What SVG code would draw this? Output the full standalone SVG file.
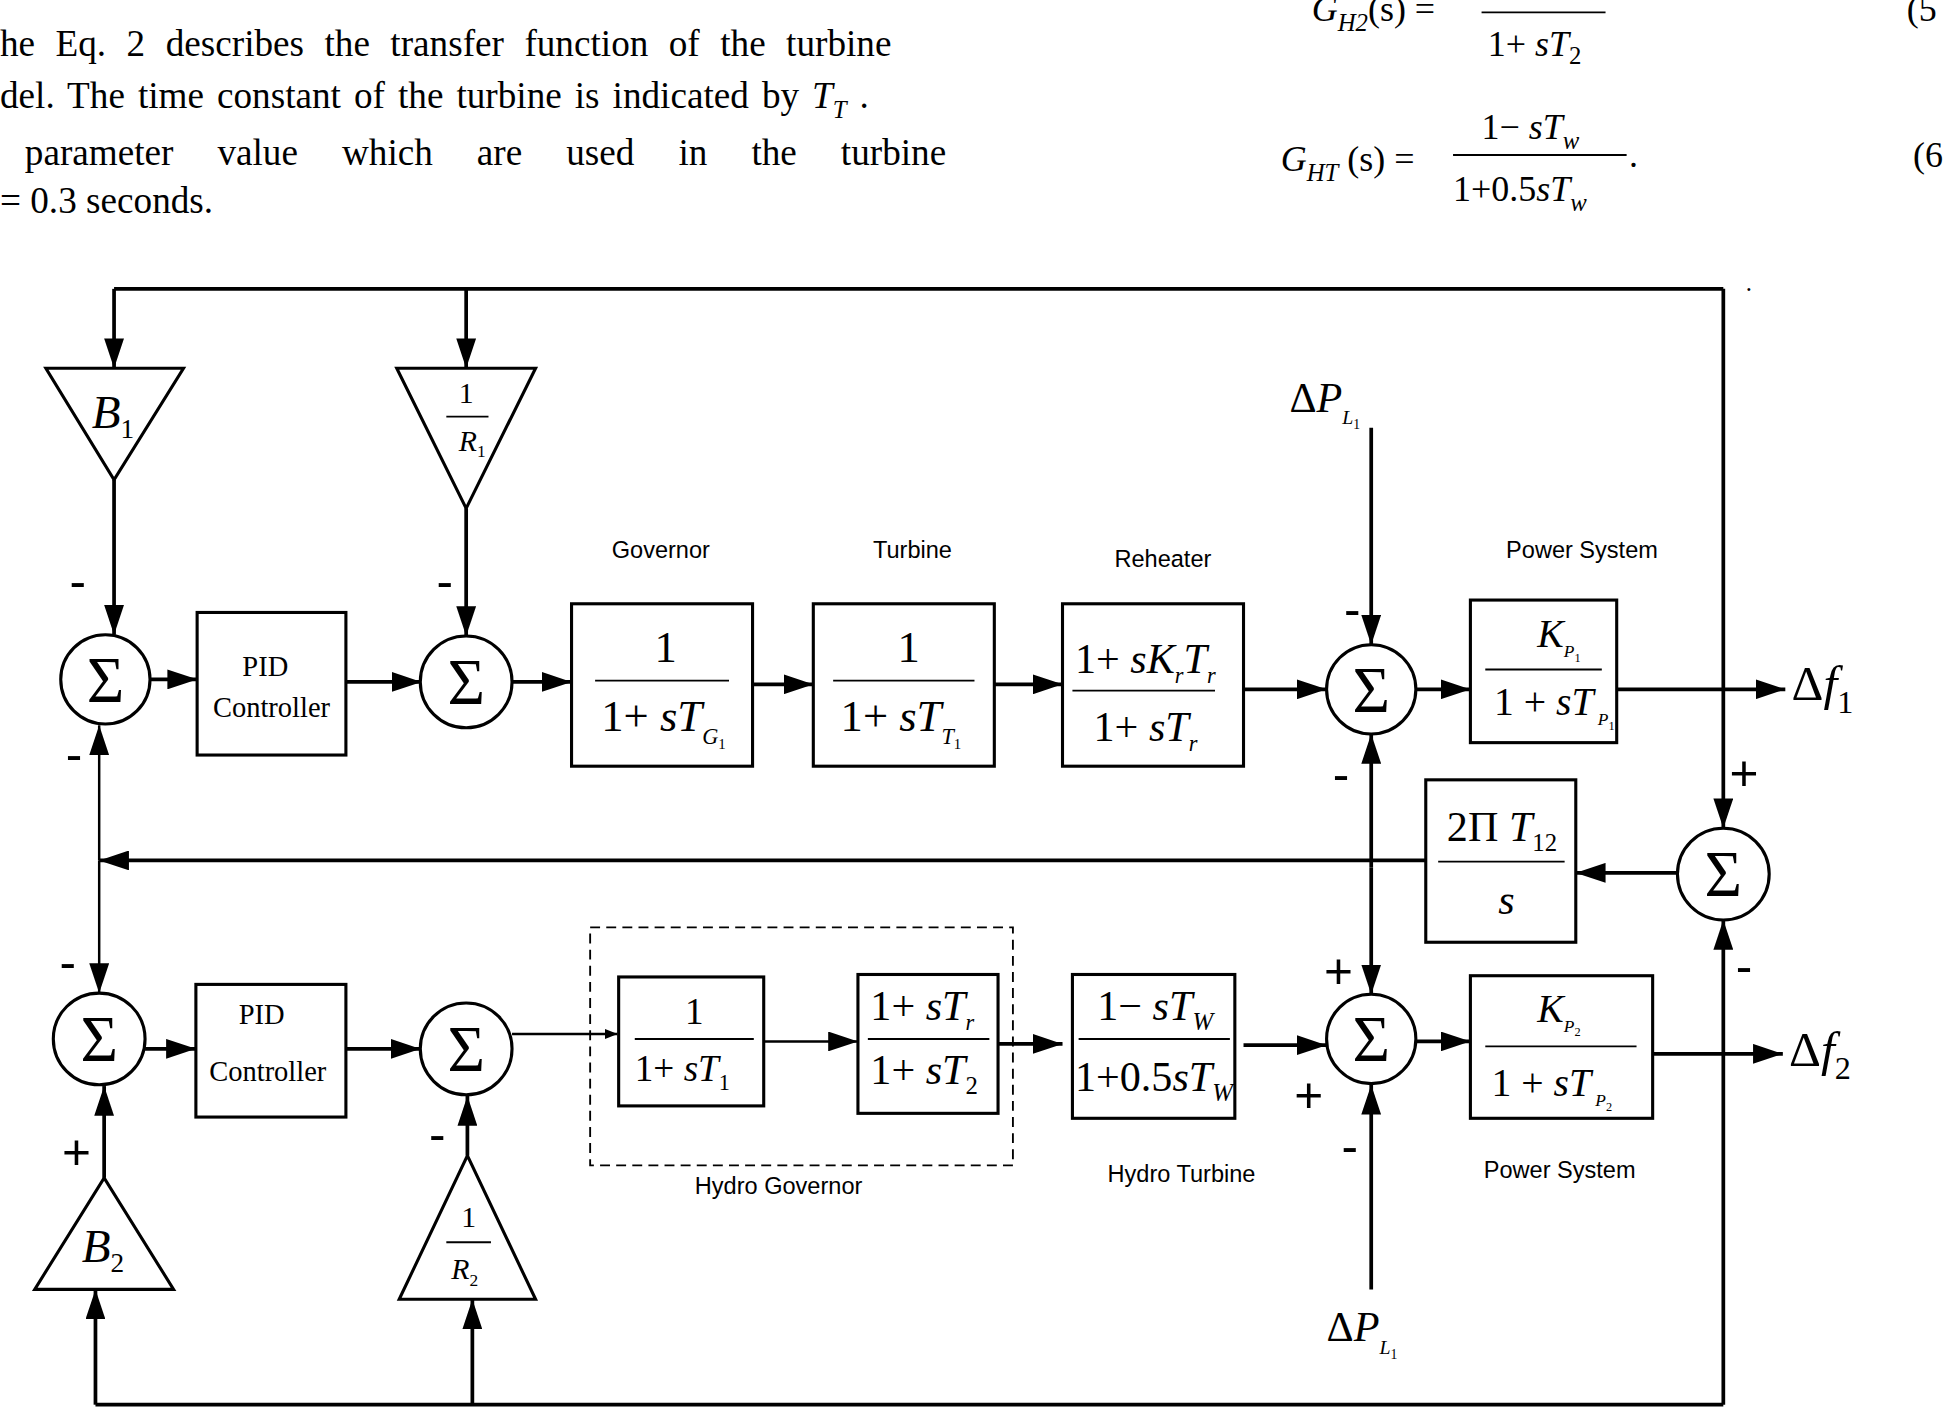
<svg xmlns="http://www.w3.org/2000/svg" width="1944" height="1409" viewBox="0 0 1944 1409">
<defs>
<marker id="ah" markerWidth="10" markerHeight="8" refX="10" refY="4" orient="auto" markerUnits="userSpaceOnUse" viewBox="0 0 10 8"><path d="M0,0 L10,4 L0,8 z" fill="#000"/></marker>
<marker id="ahb" markerWidth="24" markerHeight="16" refX="24" refY="8" orient="auto" markerUnits="userSpaceOnUse" viewBox="0 0 24 16"><path d="M0,0 L24,8 L0,16 z" fill="#000"/></marker>
<style>
.ln{stroke:#000;stroke-width:3;fill:none}
.bx{stroke:#000;stroke-width:2.5;fill:#fff}
.t{font-family:"Liberation Serif",serif;fill:#000}
.m{font-family:"Liberation Serif",serif;font-style:italic;fill:#000}
.lb{font-family:"Liberation Sans",sans-serif;font-size:19px;fill:#000}
.sg{font-family:"Liberation Serif",serif;font-size:52px;fill:#000}
.pm{font-family:"Liberation Sans",sans-serif;font-size:40px;fill:#000}
</style>
</defs>
<rect width="1944" height="1409" fill="#fff"/>
<g transform="scale(1.2398)">
<g id="text">
<text class="t" x="0" y="45" font-size="30" word-spacing="9">he Eq. 2 describes the transfer function of the turbine</text>
<text class="t" x="0" y="87" font-size="30" word-spacing="3">del. The time constant of the turbine is indicated by <tspan font-style="italic">T</tspan><tspan font-style="italic" font-size="20" dy="8">T</tspan><tspan dy="-8"> .</tspan></text>
<text class="t" x="20" y="133" font-size="30" word-spacing="28">parameter value which are used in the turbine</text>
<text class="t" x="0" y="172" font-size="30">= 0.3 seconds.</text>
<text class="m" x="1058" y="17" font-size="29">G<tspan font-size="20" dy="8">H2</tspan><tspan dy="-8" font-style="normal">(s) =</tspan></text>
<line x1="1195" y1="10" x2="1295" y2="10" stroke="#000" stroke-width="1.5"/>
<text class="t" x="1200" y="45" font-size="29">1+ <tspan font-style="italic">sT</tspan><tspan font-size="20" dy="7">2</tspan></text>
<text class="t" x="1538" y="17" font-size="29">(5</text>
<text class="m" x="1033" y="138" font-size="29">G<tspan font-size="20" dy="8">HT</tspan><tspan dy="-8" font-style="normal"> (s) =</tspan></text>
<text class="t" x="1195" y="112" font-size="29">1− <tspan font-style="italic">sT</tspan><tspan font-style="italic" font-size="20" dy="8">w</tspan></text>
<line x1="1172" y1="125" x2="1312" y2="125" stroke="#000" stroke-width="1.5"/>
<text class="t" x="1172" y="162" font-size="29">1+0.5<tspan font-style="italic">sT</tspan><tspan font-style="italic" font-size="20" dy="8">w</tspan></text>
<text class="t" x="1314" y="135" font-size="29">.</text>
<text class="t" x="1543" y="135" font-size="29">(6</text>
<text class="t" x="1408" y="235" font-size="20">.</text>
</g>
<g id="connectors">
<path class="ln" d="M92,233 H1390"/>
<path class="ln" d="M92,233 V297" marker-end="url(#ahb)"/>
<path class="ln" d="M376,233 V297" marker-end="url(#ahb)"/>
<path class="ln" d="M92,387 V512" marker-end="url(#ahb)"/>
<path class="ln" d="M376,410 V513" marker-end="url(#ahb)"/>
<path class="ln" d="M121,548 H159" marker-end="url(#ahb)"/>
<path class="ln" d="M279,550 H340" marker-end="url(#ahb)"/>
<path class="ln" d="M413,550 H461" marker-end="url(#ahb)"/>
<path class="ln" d="M607,552 H656" marker-end="url(#ahb)"/>
<path class="ln" d="M802,552 H857" marker-end="url(#ahb)"/>
<path class="ln" d="M1003,556 H1070" marker-end="url(#ahb)"/>
<path class="ln" d="M1106,345 V520" marker-end="url(#ahb)"/>
<path class="ln" d="M1142,556 H1186" marker-end="url(#ahb)"/>
<path class="ln" d="M1304,556 H1440" marker-end="url(#ahb)"/>
<path class="ln" d="M1390,233 V668" marker-end="url(#ahb)"/>
<path class="ln" d="M1353,704 H1271" marker-end="url(#ahb)"/>
<path class="ln" d="M1150,694 H80" marker-end="url(#ahb)"/>
<path class="ln" d="M80,694 V585" marker-end="url(#ahb)" style="stroke-width:2"/>
<path class="ln" d="M80,694 V801" marker-end="url(#ahb)" style="stroke-width:2"/>
<path class="ln" d="M1106,700 V592" marker-end="url(#ahb)"/>
<path class="ln" d="M1106,700 V802" marker-end="url(#ahb)"/>
<path class="ln" d="M117,846 H158" marker-end="url(#ahb)"/>
<path class="ln" d="M279,846 H339" marker-end="url(#ahb)"/>
<path class="ln" d="M413,834 H498" marker-end="url(#ah)" style="stroke-width:2"/>
<path class="ln" d="M616,840 H692" marker-end="url(#ahb)" style="stroke-width:2"/>
<path class="ln" d="M805,842 H857" marker-end="url(#ahb)"/>
<path class="ln" d="M1003,843 H1070" marker-end="url(#ahb)"/>
<path class="ln" d="M1142,840 H1186" marker-end="url(#ahb)"/>
<path class="ln" d="M1333,850 H1438" marker-end="url(#ahb)"/>
<path class="ln" d="M1106,1040 V875" marker-end="url(#ahb)"/>
<path class="ln" d="M84,950 V876" marker-end="url(#ahb)"/>
<path class="ln" d="M377,932 V884" marker-end="url(#ahb)"/>
<path class="ln" d="M77,1133 H1390"/>
<path class="ln" d="M77,1133 V1040" marker-end="url(#ahb)"/>
<path class="ln" d="M381,1133 V1048" marker-end="url(#ahb)"/>
<path class="ln" d="M1390,1133 V742" marker-end="url(#ahb)"/>
</g>
<g id="B1"><polygon class="bx" points="37,297 148,297 92,387"/><text class="m" x="74" y="345" font-size="38">B<tspan font-style="normal" font-size="22" dy="8">1</tspan></text></g>
<g id="R1"><polygon class="bx" points="320,297 432,297 376,410"/><text class="t" x="376" y="325" font-size="24" text-anchor="middle">1</text><line x1="360" y1="336" x2="394" y2="336" stroke="#000" stroke-width="1.5"/><text class="m" x="370" y="364" font-size="24">R<tspan font-style="normal" font-size="14" dy="5">1</tspan></text></g>
<g id="sum1"><circle class="bx" cx="85" cy="548" r="36"/><text class="sg" x="85" y="566" text-anchor="middle">Σ</text></g>
<g id="pid1"><rect class="bx" x="159" y="494" width="120" height="115"/><text class="t" x="214" y="545" font-size="23" text-anchor="middle">PID</text><text class="t" x="219" y="578" font-size="23" text-anchor="middle">Controller</text></g>
<g id="sum2"><circle class="bx" cx="376" cy="550" r="37"/><text class="sg" x="376" y="568" text-anchor="middle">Σ</text></g>
<g id="gov"><rect class="bx" x="461" y="487" width="146" height="131"/><text class="t" x="537" y="534" font-size="36" text-anchor="middle">1</text><line x1="480" y1="549" x2="588" y2="549" stroke="#000" stroke-width="1.5"/><text class="t" x="485" y="590" font-size="36">1+ <tspan font-style="italic">sT</tspan><tspan font-style="italic" font-size="18" dy="10">G</tspan><tspan font-size="12" dy="4">1</tspan></text></g>
<g id="turb"><rect class="bx" x="656" y="487" width="146" height="131"/><text class="t" x="733" y="534" font-size="36" text-anchor="middle">1</text><line x1="672" y1="549" x2="786" y2="549" stroke="#000" stroke-width="1.5"/><text class="t" x="678" y="590" font-size="36">1+ <tspan font-style="italic">sT</tspan><tspan font-style="italic" font-size="18" dy="10">T</tspan><tspan font-size="12" dy="4">1</tspan></text></g>
<g id="reh"><rect class="bx" x="857" y="487" width="146" height="131"/><text class="t" x="867" y="543" font-size="34">1+ <tspan font-style="italic">sK</tspan><tspan font-style="italic" font-size="18" dy="8">r</tspan><tspan font-style="italic" dy="-8">T</tspan><tspan font-style="italic" font-size="18" dy="8">r</tspan></text><line x1="865" y1="557" x2="980" y2="557" stroke="#000" stroke-width="1.5"/><text class="t" x="882" y="598" font-size="34">1+ <tspan font-style="italic">sT</tspan><tspan font-style="italic" font-size="18" dy="8">r</tspan></text></g>
<g id="sum3"><circle class="bx" cx="1106" cy="556" r="36"/><text class="sg" x="1106" y="574" text-anchor="middle">Σ</text></g>
<g id="ps1"><rect class="bx" x="1186" y="484" width="118" height="115"/><text class="m" x="1240" y="522" font-size="32">K<tspan font-size="14" dy="8">P</tspan><tspan font-style="normal" font-size="10" dy="4">1</tspan></text><line x1="1198" y1="540" x2="1292" y2="540" stroke="#000" stroke-width="1.5"/><text class="t" x="1205" y="577" font-size="32">1 + <tspan font-style="italic">sT</tspan><tspan font-style="italic" font-size="14" dy="8"> P</tspan><tspan font-size="10" dy="4">1</tspan></text></g>
<g id="sum4"><circle class="bx" cx="1390" cy="705" r="37"/><text class="sg" x="1390" y="723" text-anchor="middle">Σ</text></g>
<g id="tie"><rect class="bx" x="1150" y="629" width="121" height="131"/><text class="t" x="1167" y="678" font-size="34">2Π <tspan font-style="italic">T</tspan><tspan font-size="20" dy="8">12</tspan></text><line x1="1160" y1="695" x2="1262" y2="695" stroke="#000" stroke-width="1.5"/><text class="m" x="1215" y="737" font-size="34" text-anchor="middle">s</text></g>
<g id="sum5"><circle class="bx" cx="80" cy="838" r="37"/><text class="sg" x="80" y="856" text-anchor="middle">Σ</text></g>
<g id="pid2"><rect class="bx" x="158" y="794" width="121" height="107"/><text class="t" x="211" y="826" font-size="23" text-anchor="middle">PID</text><text class="t" x="216" y="872" font-size="23" text-anchor="middle">Controller</text></g>
<g id="sum7"><circle class="bx" cx="376" cy="846" r="37"/><text class="sg" x="376" y="864" text-anchor="middle">Σ</text></g>
<g id="hgov"><rect x="476" y="748" width="341" height="192" fill="none" stroke="#000" stroke-width="1.5" stroke-dasharray="8,5"/><text class="lb" x="628" y="963" text-anchor="middle">Hydro Governor</text></g>
<g id="hg1"><rect class="bx" x="499" y="788" width="117" height="104"/><text class="t" x="560" y="826" font-size="30" text-anchor="middle">1</text><line x1="512" y1="838" x2="608" y2="838" stroke="#000" stroke-width="1.5"/><text class="t" x="512" y="872" font-size="30">1+ <tspan font-style="italic">sT</tspan><tspan font-size="18" dy="7">1</tspan></text></g>
<g id="hg2"><rect class="bx" x="692" y="786" width="113" height="112"/><text class="t" x="702" y="823" font-size="34">1+ <tspan font-style="italic">sT</tspan><tspan font-style="italic" font-size="18" dy="8">r</tspan></text><line x1="700" y1="838" x2="798" y2="838" stroke="#000" stroke-width="1.5"/><text class="t" x="702" y="874" font-size="34">1+ <tspan font-style="italic">sT</tspan><tspan font-size="20" dy="8">2</tspan></text></g>
<g id="ht"><rect class="bx" x="865" y="786" width="131" height="116"/><text class="t" x="885" y="823" font-size="34">1− <tspan font-style="italic">sT</tspan><tspan font-style="italic" font-size="20" dy="8">W</tspan></text><line x1="870" y1="838" x2="992" y2="838" stroke="#000" stroke-width="1.5"/><text class="t" x="867" y="880" font-size="34">1+0.5<tspan font-style="italic">sT</tspan><tspan font-style="italic" font-size="20" dy="8">W</tspan></text><text class="lb" x="953" y="953" text-anchor="middle">Hydro Turbine</text></g>
<g id="sum6"><circle class="bx" cx="1106" cy="838" r="36"/><text class="sg" x="1106" y="856" text-anchor="middle">Σ</text></g>
<g id="ps2"><rect class="bx" x="1186" y="787" width="147" height="115"/><text class="m" x="1240" y="824" font-size="32">K<tspan font-size="14" dy="8">P</tspan><tspan font-style="normal" font-size="10" dy="4">2</tspan></text><line x1="1198" y1="844" x2="1320" y2="844" stroke="#000" stroke-width="1.5"/><text class="t" x="1203" y="884" font-size="32">1 + <tspan font-style="italic">sT</tspan><tspan font-style="italic" font-size="14" dy="8"> P</tspan><tspan font-size="10" dy="4">2</tspan></text><text class="lb" x="1258" y="950" text-anchor="middle">Power System</text></g>
<g id="B2"><polygon class="bx" points="28,1040 140,1040 84,950"/><text class="m" x="66" y="1018" font-size="38">B<tspan font-style="normal" font-size="22" dy="8">2</tspan></text></g>
<g id="R2"><polygon class="bx" points="322,1048 432,1048 377,932"/><text class="t" x="378" y="990" font-size="24" text-anchor="middle">1</text><line x1="360" y1="1002" x2="396" y2="1002" stroke="#000" stroke-width="1.5"/><text class="m" x="364" y="1032" font-size="24">R<tspan font-style="normal" font-size="14" dy="5">2</tspan></text></g>
<g id="labels">
<text class="lb" x="533" y="450" text-anchor="middle">Governor</text>
<text class="lb" x="736" y="450" text-anchor="middle">Turbine</text>
<text class="lb" x="938" y="457" text-anchor="middle">Reheater</text>
<text class="lb" x="1276" y="450" text-anchor="middle">Power System</text>
<text class="t" x="1040" y="332" font-size="34">Δ<tspan font-style="italic">P</tspan><tspan font-style="italic" font-size="16" dy="10">L</tspan><tspan font-size="11" dy="4">1</tspan></text>
<text class="t" x="1070" y="1082" font-size="34">Δ<tspan font-style="italic">P</tspan><tspan font-style="italic" font-size="16" dy="10">L</tspan><tspan font-size="11" dy="4">1</tspan></text>
<text class="t" x="1445" y="565" font-size="40">Δ<tspan font-style="italic">f</tspan><tspan font-size="26" dy="10">1</tspan></text>
<text class="t" x="1443" y="860" font-size="40">Δ<tspan font-style="italic">f</tspan><tspan font-size="26" dy="10">2</tspan></text>
<text class="pm" x="56" y="482">-</text>
<text class="pm" x="352" y="482">-</text>
<text class="pm" x="53" y="622">-</text>
<text class="pm" x="48" y="790">-</text>
<text class="pm" x="1084" y="505">-</text>
<text class="pm" x="1075" y="638">-</text>
<text class="pm" x="1068" y="797">+</text>
<text class="pm" x="1044" y="897">+</text>
<text class="pm" x="1082" y="938">-</text>
<text class="pm" x="1395" y="637">+</text>
<text class="pm" x="1400" y="793">-</text>
<text class="pm" x="50" y="943">+</text>
<text class="pm" x="346" y="928">-</text>
</g>
</g>
</svg>
